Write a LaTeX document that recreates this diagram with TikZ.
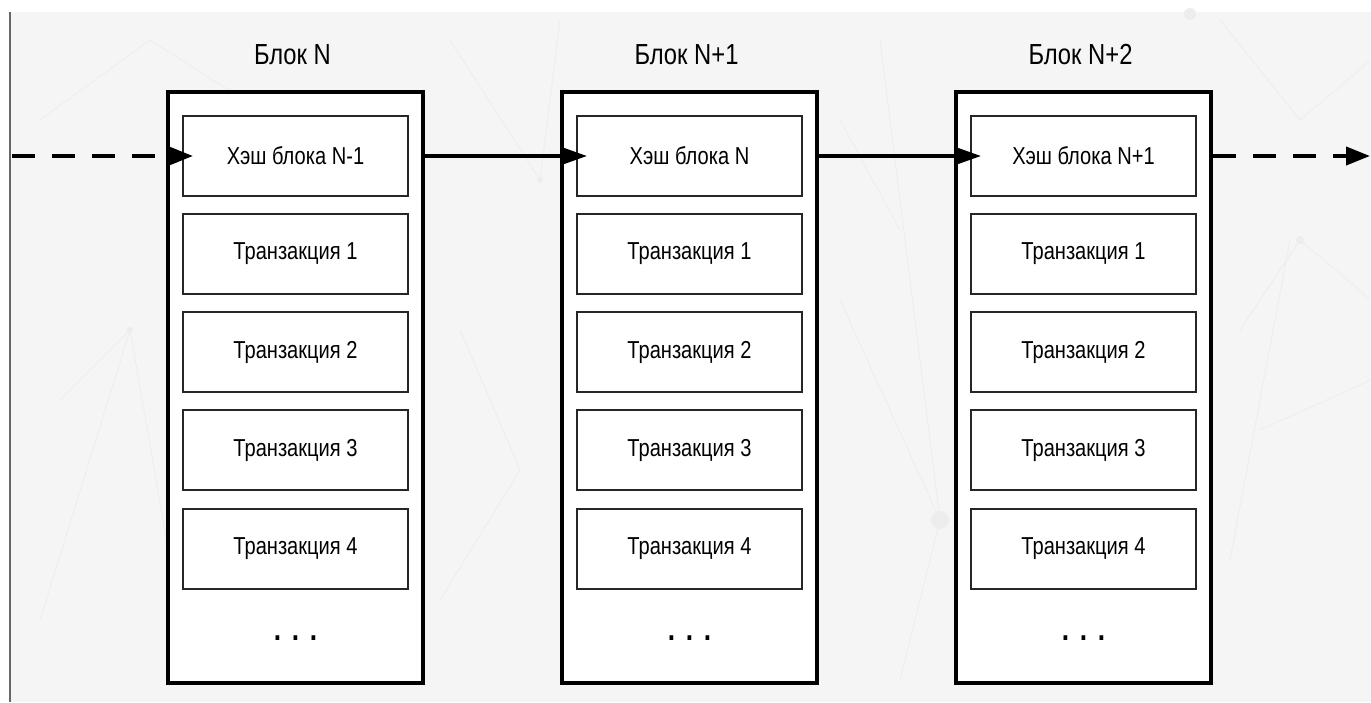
\documentclass[tikz,border=0pt]{standalone}
\usepackage{fontspec}
\setmainfont{Liberation Sans}[FakeStretch=0.82]
\usetikzlibrary{arrows.meta}
\tikzset{
  outerbox/.style={draw=black, line width=4pt, fill=white, minimum width=255pt, minimum height=591pt, inner sep=0pt},
  innerbox/.style={draw=black!85, line width=2pt, fill=white, minimum width=225pt, minimum height=80pt, inner sep=0pt, font=\fontsize{24.5}{28}\selectfont},
  title/.style={anchor=base, font=\fontsize{29}{32}\selectfont},
  dots/.style={font=\bfseries\fontsize{32}{34}\selectfont},
  linkarrow/.style={line width=3.2pt, -{Triangle[length=24pt,width=16pt]}, shorten >=-11pt},
  dasharrow/.style={line width=4pt, dash pattern=on 23pt off 17pt, -{Triangle[length=24pt,width=18pt]}},
  faint/.style={draw=black!7, line width=0.8pt},
}
\begin{document}
\begin{tikzpicture}[x=1pt,y=-1pt]
\useasboundingbox (0,0) rectangle (1371,702);
\fill[white] (0,0) rectangle (1371,702);
\fill[black!4] (10,12) rectangle (1371,702);
% faint background network
\draw[faint] (40,120) -- (150,40) -- (260,110);
\draw[faint] (60,400) -- (130,330) -- (40,620);
\draw[faint] (130,330) -- (170,560);
\draw[faint] (450,40) -- (540,180) -- (560,20);
\draw[faint] (440,600) -- (520,470) -- (460,330);
\draw[faint] (840,300) -- (940,520) -- (900,680);
\draw[faint] (940,520) -- (880,40);
\draw[faint] (840,120) -- (900,230);
\draw[faint] (1240,330) -- (1300,240) -- (1371,300);
\draw[faint] (1230,560) -- (1290,240);
\draw[faint] (1220,20) -- (1300,120) -- (1371,60);
\draw[faint] (1260,430) -- (1371,380);
\fill[black!7] (940,520) circle (9pt);
\fill[black!7] (1300,240) circle (4pt);
\fill[black!7] (130,330) circle (3pt);
\fill[black!7] (540,180) circle (3pt);
\fill[black!7] (1190,14) circle (6pt);
% left border line
\draw[black!60, line width=1.5pt] (10,12) -- (10,702);

% blocks
\foreach \i/\t/\h in {0/{Блок N}/{Хэш блока N-1}, 1/{Блок N+1}/{Хэш блока N}, 2/{Блок N+2}/{Хэш блока N+1}}{
  \pgfmathsetmacro{\cx}{295.5+394*\i}
  \node[outerbox] (b\i) at (\cx,387.5) {};
  \node[title] (t\i) at (\cx-3,64) {\t};
  \node[innerbox] (h\i) at (\cx,156) {\h};
  \node[innerbox] (ta\i) at (\cx,254) {Транзакция 1};
  \node[innerbox] (tb\i) at (\cx,352) {Транзакция 2};
  \node[innerbox] (tc\i) at (\cx,450) {Транзакция 3};
  \node[innerbox] (td\i) at (\cx,549) {Транзакция 4};
  \node[dots] (d\i) at (\cx,638) {.\,\,.\,\,.};
}

% connectors
\coordinate (start) at (12,156);
\coordinate (finish) at (1370,156);
\draw[dasharrow, shorten >=-11pt] (start) -- (h0.west);
\draw[linkarrow] (b0.east |- h0.east) -- (h1.west);
\draw[linkarrow] (b1.east |- h1.east) -- (h2.west);
\draw[dasharrow] (b2.east |- h2.east) -- (finish);
\end{tikzpicture}
\end{document}
